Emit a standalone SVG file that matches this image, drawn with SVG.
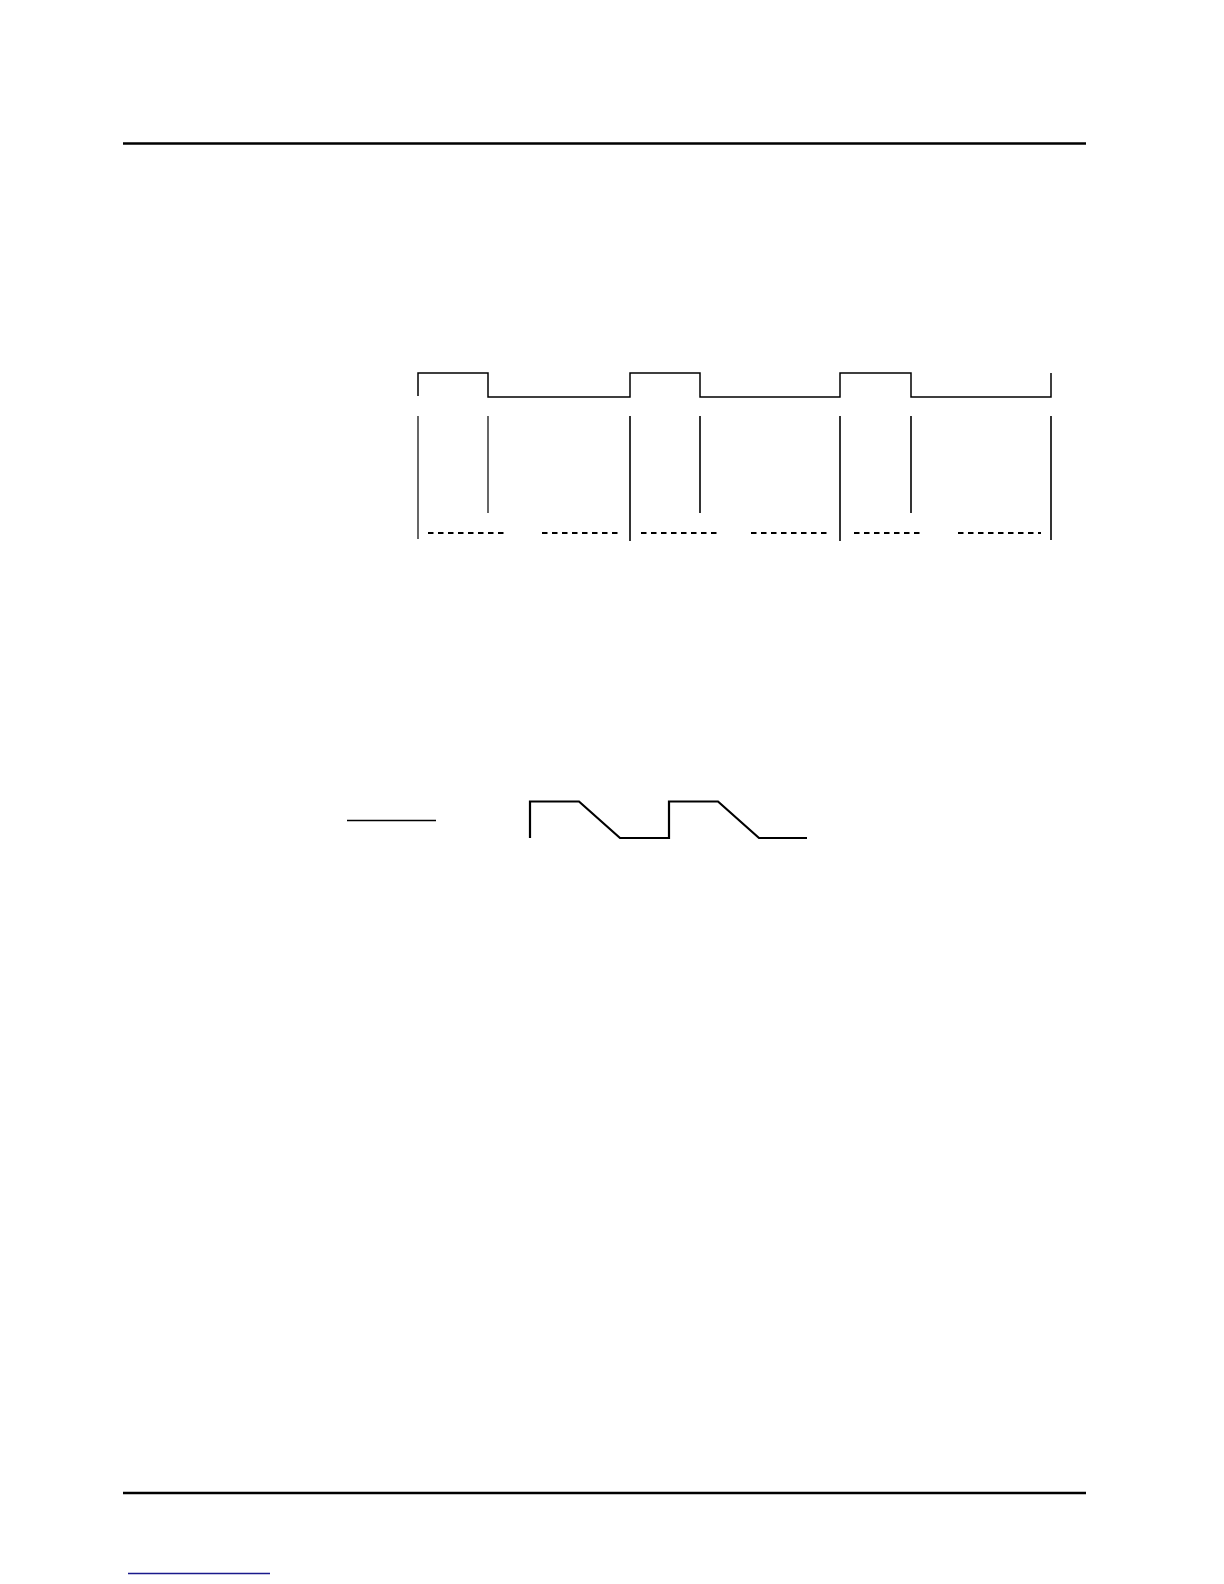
<svg xmlns="http://www.w3.org/2000/svg" width="1224" height="1584" viewBox="0 0 1224 1584">
<style>
.w{fill:none;stroke:#000;stroke-width:1.5;stroke-linejoin:miter}
.v{stroke:#000;stroke-width:1.6}
.vt{stroke:#000;stroke-width:1.2}
.d{stroke:#000;stroke-width:2;stroke-dasharray:5.5 4.5}
.rule{stroke:#000;stroke-width:2.5}
</style>
<rect width="1224" height="1584" fill="#fff"/>
<g id="header-rule"><line class="rule" x1="123" y1="143.5" x2="1086" y2="143.5"/></g>
<g id="pulse-train">
<path class="w" d="M418,396 V373 H488 V397 H630 V373 H700 V397 H840 V373 H911 V397 H1051 V373"/>
</g>
<g id="markers">
<line class="vt" x1="418" y1="416" x2="418" y2="539"/>
<line class="vt" x1="488" y1="416" x2="488" y2="513"/>
<line class="v" x1="630" y1="416" x2="630" y2="541"/>
<line class="v" x1="700" y1="416" x2="700" y2="513"/>
<line class="v" x1="840" y1="416" x2="840" y2="541"/>
<line class="v" x1="911" y1="416" x2="911" y2="513"/>
<line class="v" x1="1051" y1="416" x2="1051" y2="540"/>
</g>
<g id="dashes">
<line class="d" x1="428" y1="533" x2="506" y2="533"/>
<line class="d" x1="542" y1="533" x2="619" y2="533"/>
<line class="d" x1="641" y1="533" x2="717" y2="533"/>
<line class="d" x1="751" y1="533" x2="829" y2="533"/>
<line class="d" x1="854" y1="533" x2="922" y2="533"/>
<line class="d" x1="958" y1="533" x2="1041" y2="533"/>
</g>
<g id="short-line"><line stroke="#000" stroke-width="1.3" x1="347" y1="820.5" x2="436" y2="820.5"/></g>
<g id="trapezoid-wave">
<path fill="none" stroke="#000" stroke-width="2.2" d="M530,838 V801.5 H579 L620,838 H669 V801.5 H718 L759,838 H807"/>
</g>
<g id="footer-rule"><line class="rule" x1="123" y1="1493" x2="1086" y2="1493"/></g>
<g id="footer-link"><line stroke="#1a1a8c" stroke-width="1.5" x1="128" y1="1573.5" x2="270" y2="1573.5"/></g>
</svg>
